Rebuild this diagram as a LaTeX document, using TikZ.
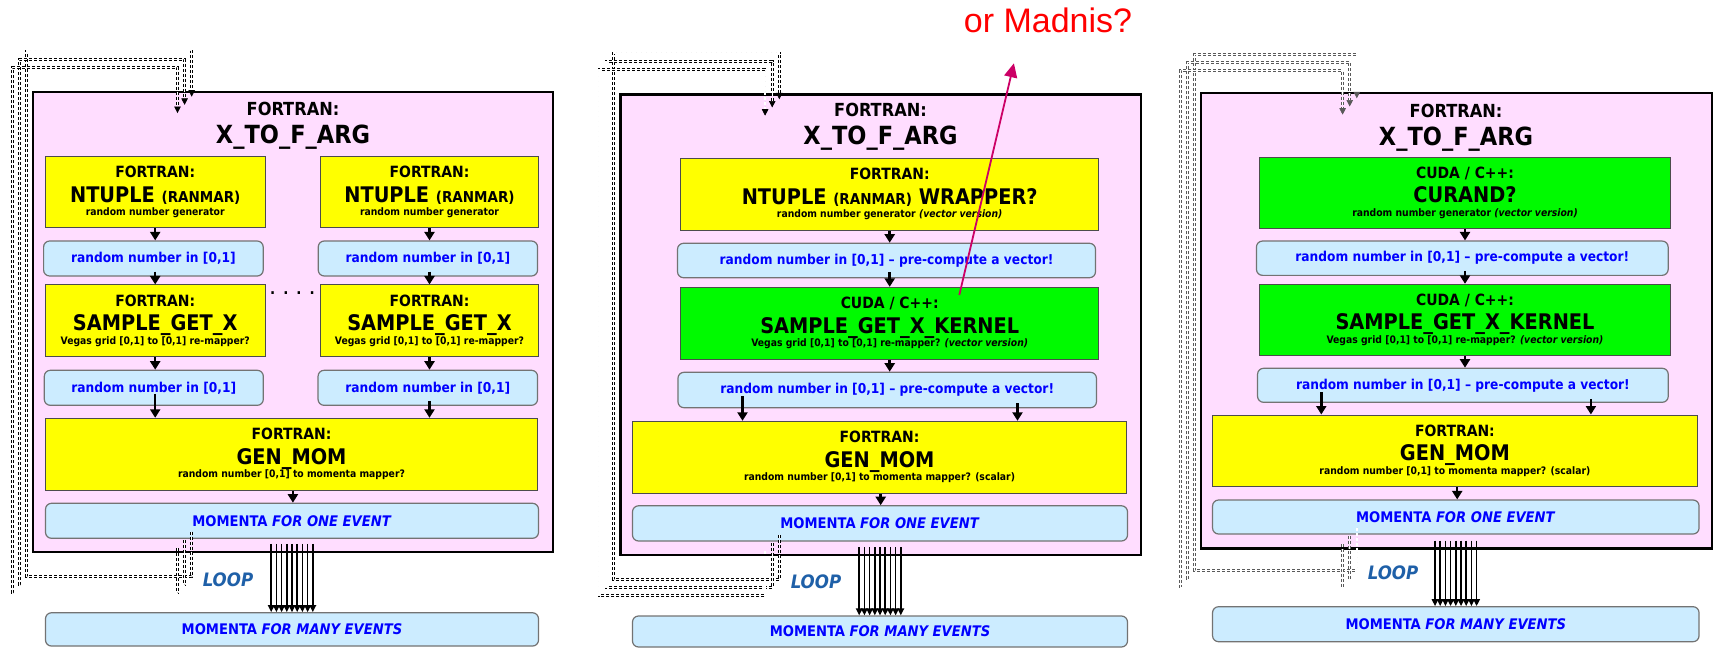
\documentclass[tikz,border=0pt]{standalone}
\usepackage{fontspec}
\setmainfont{DejaVu Sans Condensed}
\newfontfamily\arialfont{Liberation Sans}
\usepackage{tikz}
\usetikzlibrary{arrows.meta,calc,positioning}

\definecolor{pinkbg}{RGB}{255,221,255}
\definecolor{boxyellow}{RGB}{255,255,0}
\definecolor{boxgreen}{RGB}{0,250,0}
\definecolor{valueblue}{RGB}{204,236,255}
\definecolor{txtblue}{RGB}{0,0,255}
\definecolor{loopblue}{RGB}{31,96,168}
\definecolor{madred}{RGB}{255,0,0}
\definecolor{madpink}{RGB}{204,0,102}

% font sizes for the text inside the boxes
\newcommand{\topfont}{\fontsize{18}{0}\selectfont}
\newcommand{\namefont}{\fontsize{25}{0}\selectfont}
\newcommand{\hdrfont}{\fontsize{15.5}{0}\selectfont}
\newcommand{\ttlfont}{\fontsize{21.5}{0}\selectfont}
\newcommand{\smcfont}{\fontsize{15}{0}\selectfont}
\newcommand{\subfont}{\fontsize{10.3}{0}\selectfont}
\newcommand{\boxlines}{\bfseries\fontsize{10}{0}\selectfont\lineskiplimit=-100pt\relax}

\begin{document}
\begin{tikzpicture}[x=1pt,y=-1pt]
	%defines
	\tikzstyle{routinebox} = [rectangle, draw=black, line width=2.4pt, fill=pinkbg, inner sep=0pt]
	\tikzstyle{routinetitle} = [align=center, inner sep=0pt, font=\boxlines]
	\tikzstyle{fortranbox} = [rectangle, draw=black!70, line width=1pt, fill=boxyellow, align=center, inner sep=0pt, font=\boxlines]
	\tikzstyle{cudabox} = [fortranbox, fill=boxgreen]
	\tikzstyle{valuebox} = [rectangle, rounded corners=6pt, draw=black!55, line width=1.2pt, fill=valueblue, text=txtblue, inner sep=0pt, font=\bfseries\fontsize{13.6}{16}\selectfont]
	\tikzstyle{momentabox} = [valuebox, font=\bfseries\fontsize{14.6}{16}\selectfont]
	\tikzstyle{arrow} = [line width=2.5pt, -{Triangle[width=10pt,length=8.5pt]}]
	\tikzstyle{bundlearrow} = [line width=1.6pt, -{Triangle[width=6.5pt,length=7pt]}]
	\tikzstyle{loopline} = [double, line width=0.6pt, double distance=1.4pt, dash pattern=on 3pt off 2pt, -{Triangle[width=6.5pt,length=6.5pt]}]
	\tikzstyle{looplabel} = [text=loopblue, font=\bfseries\itshape\fontsize{18.5}{18.5}\selectfont]
	\tikzstyle{madarrow} = [draw=madpink, line width=1.8pt, -{Triangle[width=13pt,length=14pt]}]
	\useasboundingbox (0,0) rectangle (1716,648);

	%fortran only
	\node (xtofA) [routinebox, minimum width=520pt, minimum height=460pt] at (293,321.7) {};
	\node (titleA) [routinetitle] at (293,125.5) {\topfont FORTRAN:\\[28pt]\namefont X\_TO\_F\_ARG};
	\node (ntA1) [fortranbox, minimum width=219.6pt, minimum height=71pt] at (155.2,192.2) {\hdrfont FORTRAN:\\[24.5pt]\ttlfont NTUPLE {\smcfont (RANMAR)}\\[13.5pt]\subfont random number generator};
	\node (ntA2) [fortranbox, minimum width=218.2pt, minimum height=71pt] at (429.5,192.2) {\hdrfont FORTRAN:\\[24.5pt]\ttlfont NTUPLE {\smcfont (RANMAR)}\\[13.5pt]\subfont random number generator};
	\node (rnA1) [valuebox, minimum width=219.6pt, minimum height=35pt] at (153.4,258.5) {random number in [0,1]};
	\node (rnA2) [valuebox, minimum width=219.3pt, minimum height=35pt] at (427.9,258.5) {random number in [0,1]};
	\node (smA1) [fortranbox, minimum width=219.6pt, minimum height=71.7pt] at (155.2,320.8) {\hdrfont FORTRAN:\\[24.5pt]\ttlfont SAMPLE\_GET\_X\\[13.5pt]\subfont Vegas grid [0,1] to [0,1] re-mapper?};
	\node (smA2) [fortranbox, minimum width=218.2pt, minimum height=71.7pt] at (429.5,320.8) {\hdrfont FORTRAN:\\[24.5pt]\ttlfont SAMPLE\_GET\_X\\[13.5pt]\subfont Vegas grid [0,1] to [0,1] re-mapper?};
	\node (dotsA) [font=\bfseries\fontsize{15}{15}\selectfont] at (292.5,293) {.\hspace{8pt}.\hspace{8pt}.\hspace{8pt}.};
	\node (roA1) [valuebox, minimum width=219pt, minimum height=35pt] at (153.8,387.8) {random number in [0,1]};
	\node (roA2) [valuebox, minimum width=219.5pt, minimum height=35pt] at (427.8,387.8) {random number in [0,1]};
	\node (genA) [fortranbox, minimum width=492pt, minimum height=72pt] at (291.5,454.3) {\hdrfont FORTRAN:\\[24.5pt]\ttlfont GEN\_MOM\\[13.5pt]\subfont random number [0,1] to momenta mapper?};
	\node (momA) [momentabox, minimum width=493pt, minimum height=35pt] at (292,520.8) {MOMENTA \textit{FOR ONE EVENT}};
	\node (manyA) [momentabox, minimum width=493pt, minimum height=33.3pt] at (292,629.4) {MOMENTA \textit{FOR MANY EVENTS}};
	\node (loopA) [looplabel] at (228,579.3) {LOOP};
	\draw [arrow] (ntA1.south) -- (ntA1.south |- rnA1.north);
	\draw [arrow] ([yshift=5pt]rnA1.south -| smA1.north) -- (smA1.north);
	\draw [arrow] (smA1.south) -- (smA1.south |- roA1.north);
	\draw [arrow] ([yshift=12pt]roA1.south -| smA1.south) -- (smA1.south |- genA.north);
	\draw [arrow] (ntA2.south) -- (ntA2.south |- rnA2.north);
	\draw [arrow] ([yshift=5pt]rnA2.south -| smA2.north) -- (smA2.north);
	\draw [arrow] (smA2.south) -- (smA2.south |- roA2.north);
	\draw [arrow] ([yshift=5pt]roA2.south -| smA2.south) -- (smA2.south |- genA.north);
	\draw [arrow] ([xshift=1.4pt]genA.south) -- ([xshift=1.4pt]genA.south |- momA.north);
	\foreach \i in {-4,...,4}
		\draw [bundlearrow] ([xshift=5.2*\i pt,yshift=-5pt]momA.south) -- ([xshift=5.2*\i pt]momA.south |- manyA.north);
	\coordinate (outA) at (191.7,531.7);
	\coordinate (inA) at (191.7,96.7);
	\foreach \s in {0,1,2}
		\draw [loopline] ([shift={(-7.1*\s,8.2*\s)}]outA) -- ++(0,45) -| ++(-165,-525.7) -| ([shift={(-7.1*\s,8.2*\s)}]inA);

	%fortran with a cuda kernel
	\node (xtofB) [routinebox, minimum width=520.6pt, minimum height=460.7pt] at (880.7,324.7) {};
	\node (titleB) [routinetitle] at (880.5,127.1) {\topfont FORTRAN:\\[28pt]\namefont X\_TO\_F\_ARG};
	\node (ntB) [fortranbox, minimum width=418pt, minimum height=71.5pt] at (889.7,194.3) {\hdrfont FORTRAN:\\[24.5pt]\ttlfont NTUPLE {\smcfont (RANMAR)} WRAPPER?\\[13.5pt]\subfont random number generator \textit{(vector version)}};
	\node (rnB) [valuebox, minimum width=418pt, minimum height=34.4pt] at (886.5,260.5) {random number in [0,1] -- pre-compute a vector!};
	\node (kernB) [cudabox, minimum width=418pt, minimum height=71.7pt] at (889.7,323.2) {\hdrfont CUDA / C++:\\[24.5pt]\ttlfont SAMPLE\_GET\_X\_KERNEL\\[13.5pt]\subfont Vegas grid [0,1] to [0,1] re-mapper? \textit{(vector version)}};
	\node (roB) [valuebox, minimum width=418.5pt, minimum height=35.4pt] at (887.2,390) {random number in [0,1] -- pre-compute a vector!};
	\node (genB) [fortranbox, minimum width=494pt, minimum height=72pt] at (879.5,457.3) {\hdrfont FORTRAN:\\[24.5pt]\ttlfont GEN\_MOM\\[13.5pt]\subfont random number [0,1] to momenta mapper? (scalar)};
	\node (momB) [momentabox, minimum width=495pt, minimum height=35.2pt] at (880,523.4) {MOMENTA \textit{FOR ONE EVENT}};
	\node (manyB) [momentabox, minimum width=495pt, minimum height=31pt] at (880,631.5) {MOMENTA \textit{FOR MANY EVENTS}};
	\node (loopB) [looplabel] at (816,581.7) {LOOP};
	\node (madnis) [text=madred, font=\arialfont\fontsize{34}{34}\selectfont] at (1048,20.5) {or Madnis?};
	\draw [arrow] (ntB.south) -- (ntB.south |- rnB.north);
	\draw [arrow] ([yshift=6pt]rnB.south -| kernB.north) -- (kernB.north);
	\draw [arrow] (kernB.south) -- (kernB.south |- roB.north);
	\draw [arrow] ([xshift=-144.7pt,yshift=12pt]roB.south) -- ([xshift=-144.7pt]roB.south |- genB.north);
	\draw [arrow] ([xshift=130.3pt,yshift=5pt]roB.south) -- ([xshift=130.3pt]roB.south |- genB.north);
	\draw [arrow] ([xshift=1.2pt]genB.south) -- ([xshift=1.2pt]genB.south |- momB.north);
	\foreach \i in {-4,...,4}
		\draw [bundlearrow] ([xshift=5.2*\i pt,yshift=-5.5pt]momB.south) -- ([xshift=5.2*\i pt]momB.south |- manyB.north);
	\coordinate (outB) at (779.3,535);
	\coordinate (inB) at (779.3,99.3);
	\foreach \s in {0,1,2}
		\draw [loopline] ([shift={(-7.1*\s,8.2*\s)}]outB) -- ++(0,44.3) -| ++(-166.1,-526.3) -| ([shift={(-7.1*\s,8.2*\s)}]inB);
	\coordinate (madfrom) at (959.3,295);
	\coordinate (madtip) at (1013.9,63.3);
	\draw [madarrow] (madfrom) -- (madtip);

	%cuda random numbers and kernel
	\node (xtofC) [routinebox, minimum width=511pt, minimum height=455.6pt] at (1456.4,320.5) {};
	\node (titleC) [routinetitle] at (1456,127.3) {\topfont FORTRAN:\\[28pt]\namefont X\_TO\_F\_ARG};
	\node (curC) [cudabox, minimum width=411.3pt, minimum height=71pt] at (1465,192.8) {\hdrfont CUDA / C++:\\[24.5pt]\ttlfont CURAND?\\[13.5pt]\subfont random number generator \textit{(vector version)}};
	\node (rnC) [valuebox, minimum width=411.7pt, minimum height=34.3pt] at (1462.3,258.2) {random number in [0,1] -- pre-compute a vector!};
	\node (kernC) [cudabox, minimum width=411.3pt, minimum height=70.7pt] at (1465,319.7) {\hdrfont CUDA / C++:\\[24.5pt]\ttlfont SAMPLE\_GET\_X\_KERNEL\\[13.5pt]\subfont Vegas grid [0,1] to [0,1] re-mapper? \textit{(vector version)}};
	\node (roC) [valuebox, minimum width=410.7pt, minimum height=34pt] at (1462.9,385.3) {random number in [0,1] -- pre-compute a vector!};
	\node (genC) [fortranbox, minimum width=484.7pt, minimum height=71pt] at (1454.9,450.5) {\hdrfont FORTRAN:\\[24.5pt]\ttlfont GEN\_MOM\\[13.5pt]\subfont random number [0,1] to momenta mapper? (scalar)};
	\node (momC) [momentabox, minimum width=486.5pt, minimum height=34pt] at (1455.8,517) {MOMENTA \textit{FOR ONE EVENT}};
	\node (manyC) [momentabox, minimum width=486.5pt, minimum height=35pt] at (1455.8,624.2) {MOMENTA \textit{FOR MANY EVENTS}};
	\node (loopC) [looplabel] at (1393,572.3) {LOOP};
	\draw [arrow] (curC.south) -- (curC.south |- rnC.north);
	\draw [arrow] ([yshift=5pt]rnC.south -| kernC.north) -- (kernC.north);
	\draw [arrow] (kernC.south) -- (kernC.south |- roC.north);
	\draw [arrow] ([xshift=-141.6pt,yshift=10.6pt]roC.south) -- ([xshift=-141.6pt]roC.south |- genC.north);
	\draw [arrow] ([xshift=128pt,yshift=4pt]roC.south) -- ([xshift=128pt]roC.south |- genC.north);
	\draw [arrow] ([xshift=2.3pt]genC.south) -- ([xshift=2.3pt]genC.south |- momC.north);
	\foreach \i in {-4,...,4}
		\draw [bundlearrow] ([xshift=5.2*\i pt,yshift=-6pt]momC.south) -- ([xshift=5.2*\i pt]momC.south |- manyC.north);
	\coordinate (outC) at (1356.8,527.7);
	\coordinate (inC) at (1356.8,98.3);
	\foreach \s in {0,1,2}
		\draw [loopline, draw=black!65] ([shift={(-7.1*\s,8.2*\s)}]outC) -- ++(0,43) -| ++(-162.4,-516.4) -| ([shift={(-7.1*\s,8.2*\s)}]inC);
\end{tikzpicture}
\end{document}
